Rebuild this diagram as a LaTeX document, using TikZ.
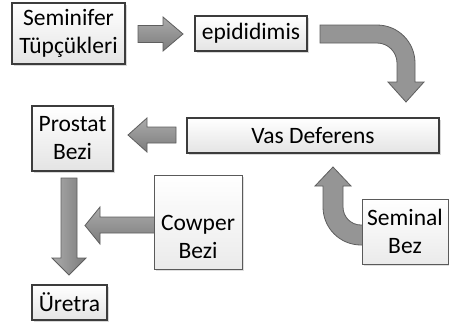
\documentclass[tikz,border=0pt]{standalone}
\usepackage{fontspec}
\setmainfont{Carlito}
\usetikzlibrary{shadows}
\definecolor{arrowtop}{HTML}{ABABAB}
\definecolor{arrowbot}{HTML}{7C7C7C}
\definecolor{arrowfill}{HTML}{959595}
\definecolor{arrowline}{HTML}{5E5E5E}
\definecolor{boxline}{HTML}{3C3C3C}
\definecolor{boxfill}{HTML}{E4E4E4}
\definecolor{lightline}{HTML}{5A5A5A}
\begin{document}
\begin{tikzpicture}[x=1pt,y=-1pt,
  txt/.style={align=center,font=\fontsize{23.5}{28}\selectfont,inner sep=0pt},
  box/.style={txt,draw=boxline,line width=1.1pt,top color=white,bottom color=boxfill,
     drop shadow={opacity=0.3,shadow xshift=2pt,shadow yshift=-2pt}},
  wbox/.style={txt,draw=lightline,line width=1pt,top color=white,bottom color=white!92!black,
     drop shadow={opacity=0.25,shadow xshift=2pt,shadow yshift=-2pt}},
  harrow/.style={draw=arrowline,line width=0.8pt,top color=arrowtop,bottom color=arrowbot},
  varrow/.style={draw=arrowline,line width=0.8pt,left color=arrowtop,right color=arrowbot},
  carrow/.style={draw=arrowline,line width=0.8pt,fill=arrowfill}]
\path[fill=white] (0,0) rectangle (449,327);
\useasboundingbox (0,0) rectangle (449,327);

% straight arrow Seminifer -> epididimis
\path[harrow] (138,25.5) -- (163,25.5) -- (163,17) -- (183,34) -- (163,51) -- (163,42.5) -- (138,42.5) -- cycle;
% bent arrow epididimis -> Vas Deferens
\path[carrow] (320,25) -- (377,25) .. controls (398,25) and (415,42) .. (415,63) -- (415,82) -- (424,82) -- (406,102) -- (388,82) -- (397,82) -- (397,63) .. controls (397,52) and (388,43) .. (377,43) -- (320,43) -- cycle;
% Vas Deferens -> Prostat
\path[harrow] (176,127) -- (147,127) -- (147,118) -- (128,135) -- (147,152) -- (147,143) -- (176,143) -- cycle;
% Prostat -> Uretra
\path[varrow] (61,178) -- (77,178) -- (77,258) -- (86,258) -- (69,275) -- (52,258) -- (61,258) -- cycle;
% Cowper -> vertical arrow
\path[harrow] (156,217) -- (100,217) -- (100,207) -- (85,225.5) -- (100,244) -- (100,233) -- (156,233) -- cycle;
% U-turn arrow Seminal -> Vas Deferens
\path[carrow] (366,245) -- (361,245) .. controls (340,245) and (323,228) .. (323,207) -- (323,186) -- (315,186) -- (333,167) -- (351,186) -- (343,186) -- (343,207) .. controls (343,217) and (351,225) .. (361,225) -- (366,225) -- cycle;

% boxes
\node[box,minimum width=113pt,minimum height=61pt] (sem) at (68.5,33.5) {Seminifer\\Tüpçükleri};
\node[box,minimum width=112pt,minimum height=35pt] (epi) at (251,33.5) {epididimis};
\node[box,minimum width=252pt,minimum height=35pt] (vas) at (313,135.5) {Vas Deferens};
\node[box,minimum width=81pt,minimum height=65pt] (pro) at (72.5,138.5) {Prostat\\Bezi};
\node[wbox,minimum width=88pt,minimum height=94pt] (cow) at (198,222) {};
\node[txt] (cowt) at (198,237) {Cowper\\Bezi};
\node[box,minimum width=75pt,minimum height=35pt] (ure) at (69.5,302.5) {Üretra};
\node[wbox,minimum width=86pt,minimum height=65pt] (semb) at (405,231.5) {Seminal\\Bez};
\end{tikzpicture}
\end{document}
